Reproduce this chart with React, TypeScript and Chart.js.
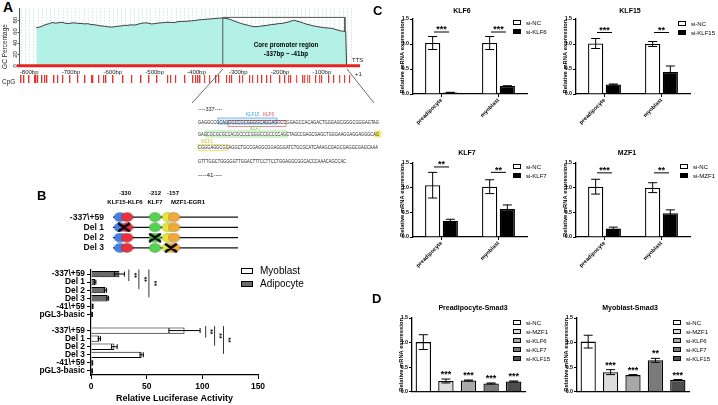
import React, { useEffect, useRef } from 'react';
import { Chart, registerables } from 'chart.js';

Chart.register(...registerables);

const SANS = "'Liberation Sans', Arial, Helvetica, sans-serif";
Chart.defaults.font.family = SANS;
Chart.defaults.color = '#000';

// ================= Panel A data =================
const gcProfile: [number, number][] = [
  [-783, 67], [-775, 68], [-768, 70], [-760, 72.5], [-752, 74], [-745, 76], [-738, 75], [-730, 75.5],
  [-722, 76.5], [-715, 75], [-707, 74], [-700, 75], [-692, 75.5], [-684, 74.5], [-676, 74.5], [-668, 73.5],
  [-660, 74], [-652, 72.5], [-644, 72], [-636, 71], [-628, 70], [-620, 69.5], [-612, 68.5], [-604, 68],
  [-596, 68.5], [-588, 69.5], [-580, 70], [-572, 71], [-564, 71], [-556, 72], [-548, 71.5], [-540, 73],
  [-532, 74.5], [-524, 75.5], [-516, 75], [-508, 73.5], [-500, 74], [-492, 75], [-484, 75.5], [-476, 76],
  [-468, 76.5], [-460, 76], [-452, 76], [-444, 77.5], [-436, 78], [-428, 78], [-420, 78.5], [-412, 79],
  [-404, 79.5], [-396, 80.5], [-388, 81], [-380, 81.5], [-372, 82], [-364, 82.5], [-356, 83], [-348, 83.5],
  [-340, 84], [-332, 83.5], [-324, 82.5], [-316, 80.5], [-308, 78], [-300, 76], [-292, 74], [-284, 72.5],
  [-276, 71], [-268, 69.5], [-260, 68.5], [-252, 69], [-244, 70], [-236, 70.5], [-228, 71.5], [-220, 72.5],
  [-212, 73], [-204, 74], [-196, 74.5], [-188, 75.5], [-180, 77], [-172, 79], [-166, 80], [-160, 78.5],
  [-152, 77], [-144, 75], [-136, 73], [-128, 71.5], [-120, 70], [-112, 69], [-104, 68], [-96, 67],
  [-88, 66.5], [-80, 66], [-72, 65], [-64, 63], [-56, 61.5], [-48, 60.5], [-43, 60.5], [-41, 0],
];
const gcXTicks = [-800, -700, -600, -500, -400, -300, -200, -100];
const gcYTicks = [0, 20, 40, 60, 80];
const coreRegion: [number, number][] = [[-337, 0], [-337, 85], [-45, 85], [-45, 60]];
const cpgSites = [
  -819, -812, -800, -786, -783, -779, -769, -762, -757, -740, -731, -719, -702, -683, -666, -650, -647,
  -633, -621, -616, -599, -575, -554, -532, -513, -494, -468, -461, -449, -427, -408, -401, -396, -391,
  -380, -368, -353, -346, -327, -320, -315, -296, -289, -272, -265, -253, -243, -231, -222, -200, -188,
  -179, -174, -160, -145, -141, -134, -129, -114, -105, -100, -83, -71, -57, -45, -33,
];

// ================= Panel B data =================
const constructs = ['-337\\+59', 'Del 1', 'Del 2', 'Del 3'];
const sitePos = [5.6, 11.2, 33.6, 44, 48.8]; // KLF15, KLF6, KLF7, MZF1, EGR1 (schematic units)
const siteColors = ['#3f7fe6', '#e8313c', '#55d24e', '#e6e63c', '#f2a93b'];
const deletedAt = [null, 8.8, 33.6, 46.4];

const lucLabels = ['-337\\+59', 'Del 1', 'Del 2', 'Del 3', '-41\\+59', 'pGL3-basic'];
const lucAdipocyte = [25.5, 3.8, 13, 15, 1.5, 1];
const lucAdipocyteErr = [4.5, 0.6, 1, 0.8, 0.3, 0.2];
const lucMyoblast = [84, 7.5, 21, 45.5, 1.2, 1];
const lucMyoblastErr = [14, 1, 2.5, 1.5, 0.3, 0.2];
const lucSigX = [34, 43, 52, 103, 111, 119];
const lucSigFrom = [0, 0, 0, 7, 7, 7];
const lucSigTo = [1, 2, 3, 8, 9, 10];

// ================= Panel C data =================
const cellTypes = ['preadipocyte', 'myoblast'];
const klf6NC = [1.02, 1.02];
const klf6NCErr = [0.13, 0.13];
const klf6Si = [0.03, 0.16];
const klf6SiErr = [0.004, 0.005];
const klf6Stars = ['***', '***'];
const klf6StarY = [1.24, 1.24];

const klf15NC = [1.01, 1.0];
const klf15NCErr = [0.1, 0.05];
const klf15Si = [0.19, 0.44];
const klf15SiErr = [0.01, 0.12];
const klf15Stars = ['***', '**'];
const klf15StarY = [1.23, 1.23];

const klf7NC = [1.05, 1.02];
const klf7NCErr = [0.26, 0.14];
const klf7Si = [0.33, 0.57];
const klf7SiErr = [0.03, 0.08];
const klf7Stars = ['**', '**'];
const klf7StarY = [1.42, 1.31];

const mzf1NC = [1.02, 1.0];
const mzf1NCErr = [0.15, 0.1];
const mzf1Si = [0.17, 0.48];
const mzf1SiErr = [0.03, 0.07];
const mzf1Stars = ['***', '**'];
const mzf1StarY = [1.3, 1.3];

// ================= Panel D data =================
const smadGroups = ['si-NC', 'si-MZF1', 'si-KLF6', 'si-KLF7', 'si-KLF15'];
const smadColors = ['#ffffff', '#dcdcdc', '#a8a8a8', '#7a7a7a', '#4d4d4d'];
const preSmad3 = [1.01, 0.22, 0.23, 0.17, 0.21];
const preSmad3Err = [0.15, 0.04, 0.01, 0.01, 0.01];
const preSmad3Stars = ['', '***', '***', '***', '***'];
const myoSmad3 = [1.02, 0.4, 0.34, 0.64, 0.24];
const myoSmad3Err = [0.13, 0.05, 0.01, 0.04, 0.01];
const myoSmad3Stars = ['', '***', '***', '**', '***'];

// ================= plugins =================
const errPlugin = {
  id: 'errbars',
  afterDatasetsDraw(chart: any, _a: any, opts: any) {
    if (!opts || !opts.err) return;
    const ctx = chart.ctx;
    const horiz = chart.options.indexAxis === 'y';
    const vs = horiz ? chart.scales.x : chart.scales.y;
    ctx.save();
    ctx.strokeStyle = '#000';
    ctx.lineWidth = opts.width || 1;
    opts.err.forEach((errs: any, di: number) => {
      if (!errs) return;
      const meta = chart.getDatasetMeta(di);
      const data = chart.data.datasets[di].data;
      meta.data.forEach((el: any, i: number) => {
        const v = data[i];
        const e = errs[i];
        if (v == null || e == null) return;
        const lo = vs.getPixelForValue(v - e);
        const hi = vs.getPixelForValue(v + e);
        const c = horiz ? el.y : el.x;
        const h = opts.cap / 2;
        ctx.beginPath();
        if (horiz) {
          ctx.moveTo(lo, c); ctx.lineTo(hi, c);
          ctx.moveTo(lo, c - h); ctx.lineTo(lo, c + h);
          ctx.moveTo(hi, c - h); ctx.lineTo(hi, c + h);
        } else {
          ctx.moveTo(c, lo); ctx.lineTo(c, hi);
          ctx.moveTo(c - h, lo); ctx.lineTo(c + h, lo);
          ctx.moveTo(c - h, hi); ctx.lineTo(c + h, hi);
        }
        ctx.stroke();
      });
    });
    ctx.restore();
  },
};

const sigPlugin = {
  id: 'sigmarks',
  afterDatasetsDraw(chart: any, _a: any, opts: any) {
    if (!opts || !opts.items) return;
    const ctx = chart.ctx;
    const xs = chart.scales.x;
    const ys = chart.scales.y;
    ctx.save();
    ctx.fillStyle = '#000';
    ctx.strokeStyle = '#000';
    ctx.lineWidth = 1;
    ctx.font = `bold ${opts.font || 8}px ${SANS}`;
    ctx.textAlign = 'center';
    opts.items.forEach((it: any) => {
      if (!it.text) return;
      if (opts.kind === 'pair') {
        const cx = xs.getPixelForValue(it.cat);
        const py = ys.getPixelForValue(it.y);
        ctx.beginPath();
        ctx.moveTo(cx - opts.half, py);
        ctx.lineTo(cx + opts.half, py);
        ctx.stroke();
        ctx.textBaseline = 'alphabetic';
        ctx.fillText(it.text, cx, py + opts.font * 0.05);
      } else if (opts.kind === 'bar') {
        const el = chart.getDatasetMeta(0).data[it.idx];
        const py = ys.getPixelForValue(it.y);
        ctx.textBaseline = 'alphabetic';
        ctx.fillText(it.text, el.x, py - 2);
      } else if (opts.kind === 'vline') {
        const px = xs.getPixelForValue(it.x);
        const y0 = ys.getPixelForValue(it.from) - 4.5;
        const y1 = ys.getPixelForValue(it.to) - 1;
        ctx.lineWidth = 0.8;
        ctx.beginPath();
        ctx.moveTo(px, y0);
        ctx.lineTo(px, y1);
        ctx.stroke();
        ctx.save();
        ctx.translate(px + 4.5, (y0 + y1) / 2);
        ctx.rotate(Math.PI / 2);
        ctx.textBaseline = 'middle';
        ctx.fillText(it.text, 0, 0);
        ctx.restore();
      }
    });
    ctx.restore();
  },
};

// GC panel: dotted vertical grid above the baseline, drawn behind the data
const vgridPlugin = {
  id: 'vgrid',
  beforeDatasetsDraw(chart: any) {
    const xs = chart.scales.x;
    const ys = chart.scales.y;
    const top = chart.chartArea.top;
    const bottom = ys.getPixelForValue(0);
    const ctx = chart.ctx;
    ctx.save();
    ctx.lineWidth = 0.8;
    ctx.setLineDash([1.5, 1.5]);
    let k = 0;
    for (let bp = Math.ceil(xs.min / 10) * 10; bp <= xs.max; bp += 10) {
      const px = Math.round(xs.getPixelForValue(bp)) + 0.5;
      ctx.strokeStyle = k % 2 ? 'rgba(120,205,200,0.55)' : 'rgba(150,215,170,0.55)';
      ctx.beginPath();
      ctx.moveTo(px, top);
      ctx.lineTo(px, bottom);
      ctx.stroke();
      k++;
    }
    ctx.restore();
  },
};

// GC panel: red baseline, y axis line/ticks/labels and bp labels, all from the scales
const gcAxesPlugin = {
  id: 'gcAxes',
  afterDatasetsDraw(chart: any) {
    const xs = chart.scales.x;
    const ys = chart.scales.y;
    const { left, right, top } = chart.chartArea;
    const ctx = chart.ctx;
    const y0 = ys.getPixelForValue(0);
    ctx.save();
    // y axis line and ticks
    ctx.strokeStyle = '#555';
    ctx.lineWidth = 1;
    ctx.beginPath();
    ctx.moveTo(left - 0.5, top);
    ctx.lineTo(left - 0.5, y0);
    gcYTicks.forEach((v) => {
      const py = Math.round(ys.getPixelForValue(v)) + 0.5;
      ctx.moveTo(left - 2.5, py);
      ctx.lineTo(left - 0.5, py);
    });
    ctx.stroke();
    // red baseline
    ctx.strokeStyle = '#e8231f';
    ctx.lineWidth = 3;
    ctx.beginPath();
    ctx.moveTo(left - 3, y0);
    ctx.lineTo(right + 8, y0);
    ctx.stroke();
    // labels
    ctx.fillStyle = '#222';
    ctx.font = `6px ${SANS}`;
    ctx.textAlign = 'center';
    ctx.textBaseline = 'middle';
    gcYTicks.forEach((v) => {
      ctx.save();
      ctx.translate(left - 4.7, ys.getPixelForValue(v));
      ctx.rotate(-Math.PI / 2);
      ctx.fillText(String(v), 0, 0);
      ctx.restore();
    });
    gcXTicks.forEach((v) => {
      ctx.fillText(v + 'bp', xs.getPixelForValue(v), y0 + 6.5);
    });
    ctx.restore();
  },
};

function ellipseImage(color: string) {
  const c = document.createElement('canvas');
  c.width = 13;
  c.height = 10;
  const g = c.getContext('2d')!;
  g.beginPath();
  g.ellipse(6.5, 5, 6, 4.5, 0, 0, Math.PI * 2);
  g.fillStyle = color;
  g.fill();
  g.strokeStyle = 'rgba(0,0,0,0.3)';
  g.lineWidth = 0.6;
  g.stroke();
  return c;
}

function crossImage() {
  const c = document.createElement('canvas');
  c.width = 14;
  c.height = 10;
  const g = c.getContext('2d')!;
  g.strokeStyle = '#000';
  g.lineWidth = 2.6;
  g.lineCap = 'round';
  g.beginPath();
  g.moveTo(2, 1.5); g.lineTo(12, 8.5);
  g.moveTo(12, 1.5); g.lineTo(2, 8.5);
  g.stroke();
  return c;
}

function tickImage(color: string) {
  const c = document.createElement('canvas');
  c.width = 2;
  c.height = 8;
  const g = c.getContext('2d')!;
  g.fillStyle = color;
  g.fillRect(0, 0, 1.2, 8);
  return c;
}

const base = (padT: number, padR: number, padL = 0, padB = 0) => ({
  responsive: false,
  animation: false,
  devicePixelRatio: 1,
  layout: { padding: { top: padT, right: padR, left: padL, bottom: padB } },
});
const noLegend = { legend: { display: false }, tooltip: { enabled: false }, title: { display: false } };

// ================= chart configs =================
function gcConfig() {
  const CPG_ROW = -23; // y level of the CpG track, below the baseline
  return {
    type: 'line',
    data: {
      datasets: [
        {
          type: 'scatter',
          data: cpgSites.map((x) => ({ x, y: CPG_ROW })),
          pointStyle: tickImage('#e3342f'),
          pointRadius: 4,
          showLine: false,
        },
        {
          data: coreRegion.map(([x, y]) => ({ x, y })),
          fill: false,
          borderColor: '#555',
          borderWidth: 1,
          pointRadius: 0,
          tension: 0,
        },
        {
          data: gcProfile.map(([x, y]) => ({ x, y })),
          fill: 'origin',
          backgroundColor: '#b3f1e6',
          borderColor: '#3a3a3a',
          borderWidth: 1,
          pointRadius: 0,
          tension: 0,
        },
      ],
    },
    options: {
      ...base(8, 13, 0, 2),
      plugins: { ...noLegend },
      scales: {
        x: { type: 'linear', min: -822, max: -28, display: false },
        y: {
          type: 'linear', min: -33.8, max: 101.5,
          ticks: { display: false },
          grid: { display: false, drawTicks: false },
          border: { display: false },
          title: { display: true, text: 'GC Percentage', font: { size: 6.5 }, padding: { top: 1, bottom: 0 }, color: '#222' },
          afterFit: (s: any) => { s.width = 20; },
        },
      },
    },
    plugins: [vgridPlugin, gcAxesPlugin],
  };
}

function schematicConfig() {
  // Chart.js paints dataset 0 last (on top), so push in top-to-bottom order
  const datasets: any[] = [];
  datasets.push({
    type: 'scatter',
    data: deletedAt
      .map((pos, i) => (pos == null ? null : { x: pos, y: constructs[i] }))
      .filter((d) => d),
    pointStyle: crossImage(),
    pointRadius: 6,
    clip: false,
  });
  for (let i = sitePos.length - 1; i >= 0; i--) {
    datasets.push({
      type: 'scatter',
      data: constructs.map((row) => ({ x: sitePos[i], y: row })),
      pointStyle: ellipseImage(siteColors[i]),
      pointRadius: 6,
      clip: false,
    });
  }
  constructs.forEach((row) => {
    datasets.push({
      type: 'line',
      data: [{ x: 0, y: row }, { x: 100, y: row }],
      borderColor: '#111',
      borderWidth: 1.3,
      pointRadius: 0,
    });
  });
  return {
    type: 'scatter',
    data: { datasets },
    options: {
      ...base(2.8, 7, 0, 2.6),
      plugins: { ...noLegend },
      scales: {
        x: { type: 'linear', min: 0, max: 100, display: false },
        y: {
          type: 'category', labels: constructs, offset: true,
          grid: { display: false }, border: { display: false },
          ticks: { font: { size: 8.6, weight: 'bold' }, color: '#111', padding: 1, autoSkip: false },
          afterFit: (s: any) => { s.width = 113; },
        },
      },
    },
  };
}

function lucConfig() {
  const rows = [...lucLabels, '', ...lucLabels];
  const adip = rows.map((_, i) => (i < lucLabels.length ? lucAdipocyte[i] : null));
  const adipErr = rows.map((_, i) => (i < lucLabels.length ? lucAdipocyteErr[i] : null));
  const off = lucLabels.length + 1;
  const myo = rows.map((_, i) => (i >= off ? lucMyoblast[i - off] : null));
  const myoErr = rows.map((_, i) => (i >= off ? lucMyoblastErr[i - off] : null));
  return {
    type: 'bar',
    data: {
      labels: rows,
      datasets: [
        { label: 'Adipocyte', data: adip, backgroundColor: '#6b6b6b', borderColor: '#000', borderWidth: 1, grouped: false, barPercentage: 0.78, categoryPercentage: 1 },
        { label: 'Myoblast', data: myo, backgroundColor: '#ffffff', borderColor: '#000', borderWidth: 1, grouped: false, barPercentage: 0.78, categoryPercentage: 1 },
      ],
    },
    options: {
      ...base(8, 12),
      indexAxis: 'y',
      plugins: {
        ...noLegend,
        errbars: { err: [adipErr, myoErr], cap: 5 },
        sigmarks: {
          kind: 'vline', font: 6.5,
          items: lucSigX.map((x, i) => ({ x, from: lucSigFrom[i], to: lucSigTo[i], text: '**' })),
        },
      },
      scales: {
        x: {
          type: 'linear', min: 0, max: 150,
          ticks: { stepSize: 50, font: { size: 8.5, weight: 'bold' }, padding: 3, color: '#000' },
          grid: { drawOnChartArea: false, tickLength: 4, color: '#000' },
          border: { color: '#000', width: 1.2 },
          title: { display: true, text: 'Relative Luciferase Activity', font: { size: 9, weight: 'bold' }, padding: { top: 0, bottom: 1.5 }, color: '#000' },
          afterFit: (s: any) => { s.height = 30; },
        },
        y: {
          type: 'category', offset: true,
          ticks: { font: { size: 8.4, weight: 'bold' }, padding: 2, color: '#000', autoSkip: false },
          grid: {
            drawOnChartArea: false, tickLength: 4, offset: false,
            color: (c: any) => (c.tick && c.tick.label === '' ? 'rgba(0,0,0,0)' : '#000'),
          },
          border: { color: '#000', width: 1.2 },
          afterFit: (s: any) => { s.width = 61; },
        },
      },
    },
    plugins: [errPlugin, sigPlugin],
  };
}

function groupedConfig(p: any) {
  return {
    type: 'bar',
    data: {
      labels: cellTypes,
      datasets: [
        { label: 'si-NC', data: p.nc, backgroundColor: '#fff', borderColor: '#000', borderWidth: 1.3, barPercentage: 0.86, categoryPercentage: 0.62 },
        { label: p.siName, data: p.si, backgroundColor: '#000', borderColor: '#000', borderWidth: 1.3, barPercentage: 0.86, categoryPercentage: 0.62 },
      ],
    },
    options: {
      ...base(p.padT, p.padR),
      plugins: {
        ...noLegend,
        errbars: { err: [p.ncErr, p.siErr], cap: 9 },
        sigmarks: { kind: 'pair', half: 7.5, font: 9, items: p.stars.map((t: string, i: number) => ({ cat: i, y: p.starY[i], text: t })) },
      },
      scales: {
        x: {
          type: 'category', offset: true,
          grid: { display: true, drawOnChartArea: false, drawTicks: true, tickLength: 3, color: '#000', offset: false },
          border: { color: '#000', width: 1.3 },
          ticks: { minRotation: 45, maxRotation: 45, font: { size: 5.5, weight: 'bold' }, padding: 0, color: '#000', autoSkip: false },
          afterFit: (s: any) => { s.height = p.xH; },
        },
        y: {
          min: 0, max: 1.5,
          ticks: { stepSize: 0.5, callback: (v: any) => Number(v).toFixed(1), font: { size: 5.3, weight: 'bold' }, padding: 1, color: '#000' },
          grid: { drawOnChartArea: false, tickLength: 3, color: '#000' },
          border: { color: '#000', width: 1.3 },
          title: { display: true, text: 'Relative mRNA expression', font: { size: 5.8, weight: 'bold' }, padding: 0, color: '#000' },
          afterFit: (s: any) => { s.width = p.yW; },
        },
      },
    },
    plugins: [errPlugin, sigPlugin],
  };
}

function smadConfig(p: any) {
  return {
    type: 'bar',
    data: {
      labels: smadGroups,
      datasets: [
        { data: p.values, backgroundColor: smadColors, borderColor: '#000', borderWidth: 1.3, barPercentage: 0.68, categoryPercentage: 1 },
      ],
    },
    options: {
      ...base(p.padT, p.padR),
      plugins: {
        ...noLegend,
        errbars: { err: [p.err], cap: 9 },
        sigmarks: {
          kind: 'bar', font: 9,
          items: p.stars.map((t: string, i: number) => ({ idx: i, y: p.values[i] + p.err[i], text: t })),
        },
      },
      scales: {
        x: {
          type: 'category', offset: true,
          grid: { display: false },
          border: { color: '#000', width: 1.3 },
          ticks: { display: false },
          afterFit: (s: any) => { s.height = 4; },
        },
        y: {
          min: 0, max: 1.5,
          ticks: { stepSize: 0.5, callback: (v: any) => Number(v).toFixed(1), font: { size: 5.3, weight: 'bold' }, padding: 1, color: '#000' },
          grid: { drawOnChartArea: false, tickLength: 3, color: '#000' },
          border: { color: '#000', width: 1.3 },
          title: { display: true, text: 'Relative mRNA expression', font: { size: 5.8, weight: 'bold' }, padding: 0, color: '#000' },
          afterFit: (s: any) => { s.width = p.yW; },
        },
      },
    },
    plugins: [errPlugin, sigPlugin],
  };
}

// ================= components =================
function ChartCanvas({ x, y, w, h, build }: any) {
  const ref = useRef<HTMLCanvasElement>(null);
  useEffect(() => {
    const chart = new Chart(ref.current as any, build());
    return () => chart.destroy();
  }, []);
  return (
    <canvas
      ref={ref}
      width={w}
      height={h}
      style={{ position: 'absolute', left: x, top: y, width: w, height: h }}
    />
  );
}

function T({ x, y, s, w = 'normal', c = '#000', center = false, children }: any) {
  return (
    <div
      style={{
        position: 'absolute', left: x, top: y, fontSize: s, fontWeight: w, color: c,
        fontFamily: SANS, lineHeight: 1, whiteSpace: 'nowrap',
        transform: center ? 'translate(-50%, -50%)' : 'translateY(-50%)',
      }}
    >
      {children}
    </div>
  );
}

function Legend({ x, y, items, gap = 9 }: any) {
  return (
    <>
      {items.map((it: any, i: number) => (
        <React.Fragment key={i}>
          <div
            style={{
              position: 'absolute', left: x, top: y + i * gap - 3, width: 8, height: 5,
              background: it.color, border: '1px solid #000', boxSizing: 'border-box',
            }}
          />
          <T x={x + 13} y={y + i * gap} s={6}>{it.label}</T>
        </React.Fragment>
      ))}
    </>
  );
}

function SequenceOverlay() {
  const seq1 = 'GAGGCCGCAGGGCCGCGGGGCAGGAGGCCGGAGCCACAGACTGGGAGCGGGCGGGAGTAG';
  const seq2 = 'GAGCGCGCGCCACGCCCCGGGCCGCCCCAGCTAGCCGAGCGAGCTGGGAAGGAGGAGGGCAG';
  const seq3 = 'CGGGAGGCGCAGGCTGCCGAGGCGGAGGGATCTGCGCATCAAAGCGAGCGAGGCGAGCAAA';
  const seq4 = 'GTTTGGCTGGGGGTTGGACTTTCCTTCCTGGAGGCGGCACCCAAACAGCCAC';
  const f = { fontFamily: SANS, fontSize: 4.6, fill: '#222' } as any;
  return (
    <svg width={718} height={405} style={{ position: 'absolute', left: 0, top: 0, pointerEvents: 'none' }}>
      <line x1={223} y1={69} x2={192} y2={103} stroke="#444" strokeWidth={0.8} />
      <line x1={347} y1={69} x2={374} y2={103} stroke="#444" strokeWidth={0.8} />
      <rect x={218} y={118} width={59} height={6} fill="rgba(120,190,240,0.25)" stroke="#4aa3df" strokeWidth={0.7} />
      <rect x={228} y={120.5} width={58} height={6} fill="none" stroke="#e05a6a" strokeWidth={0.7} />
      <rect x={206} y={131} width={81} height={6} fill="none" stroke="#7fdc6f" strokeWidth={0.7} />
      <rect x={375} y={131} width={6} height={6} fill="#f6f07a" stroke="#e8dc40" strokeWidth={0.5} />
      <rect x={198} y={144.5} width={30} height={6} fill="none" stroke="#e8dc40" strokeWidth={0.7} />
      <text x={198} y={110.5} {...f} textLength={24} lengthAdjust="spacingAndGlyphs">----337----</text>
      <text x={246} y={115.5} {...f} fill="#3a9ee0">KLF15</text>
      <text x={263} y={115.5} {...f} fill="#e0505e">KLF6</text>
      <text x={198} y={123.5} {...f} textLength={181} lengthAdjust="spacingAndGlyphs">{seq1}</text>
      <text x={250} y={130} {...f} fill="#5fcf45">KLF7</text>
      <text x={198} y={135.5} {...f} textLength={181} lengthAdjust="spacingAndGlyphs">{seq2}</text>
      <text x={201} y={143} {...f} fill="#cfc531">MZF1</text>
      <text x={198} y={149} {...f} textLength={180} lengthAdjust="spacingAndGlyphs">{seq3}</text>
      <text x={198} y={162.5} {...f} textLength={148} lengthAdjust="spacingAndGlyphs">{seq4}</text>
      <text x={198} y={176.5} {...f} textLength={24} lengthAdjust="spacingAndGlyphs">----41----</text>
    </svg>
  );
}

export default function App() {
  return (
    <div style={{ position: 'absolute', left: 0, top: 0, width: 718, height: 405, background: '#fff', overflow: 'hidden', fontFamily: SANS }}>
      {/* Panel A */}
      <T x={3} y={7} s={14} w="bold">A</T>
      <ChartCanvas x={0} y={0} w={365} h={90} build={gcConfig} />
      <T x={2} y={82} s={6.5} c="#222">CpG</T>
      <T x={352} y={60} s={6} c="#222">TTS</T>
      <T x={355} y={74} s={6} c="#222">+1</T>
      <T x={286} y={45} s={6.3} w="bold" center>Core promoter region</T>
      <T x={286} y={54} s={6.3} w="bold" center>-337bp ~ -41bp</T>
      <SequenceOverlay />

      {/* Panel B */}
      <T x={37} y={195} s={13} w="bold">B</T>
      <T x={125} y={193} s={6} w="bold" center>-330</T>
      <T x={125} y={202} s={6} w="bold" center>KLF15-KLF6</T>
      <T x={155} y={193} s={6} w="bold" center>-212</T>
      <T x={155} y={202} s={6} w="bold" center>KLF7</T>
      <T x={173} y={193} s={6} w="bold" center>-157</T>
      <T x={188} y={202} s={6} w="bold" center>MZF1-EGR1</T>
      <ChartCanvas x={0} y={205} w={245} h={55} build={schematicConfig} />
      <ChartCanvas x={30} y={262} w={240} h={143} build={lucConfig} />
      <div style={{ position: 'absolute', left: 241, top: 268, width: 12, height: 6, border: '1.3px solid #000', background: '#fff', boxSizing: 'border-box' }} />
      <T x={260} y={271} s={10}>Myoblast</T>
      <div style={{ position: 'absolute', left: 241, top: 281, width: 12, height: 6, border: '1.3px solid #000', background: '#6b6b6b', boxSizing: 'border-box' }} />
      <T x={260} y={284} s={10}>Adipocyte</T>

      {/* Panel C */}
      <T x={373} y={10} s={13} w="bold">C</T>
      <T x={462} y={10} s={7} w="bold" center>KLF6</T>
      <ChartCanvas x={399} y={5} w={131} h={121} build={() => groupedConfig({ nc: klf6NC, ncErr: klf6NCErr, si: klf6Si, siErr: klf6SiErr, siName: 'si-KLF6', stars: klf6Stars, starY: klf6StarY, yW: 14, xH: 32, padT: 14, padR: 3 })} />
      <Legend x={513} y={23} items={[{ label: 'si-NC', color: '#fff' }, { label: 'si-KLF6', color: '#000' }]} />

      <T x={630} y={10} s={7} w="bold" center>KLF15</T>
      <ChartCanvas x={562} y={5} w={131} h={121} build={() => groupedConfig({ nc: klf15NC, ncErr: klf15NCErr, si: klf15Si, siErr: klf15SiErr, siName: 'si-KLF15', stars: klf15Stars, starY: klf15StarY, yW: 14, xH: 32, padT: 14, padR: 3 })} />
      <Legend x={678} y={24} items={[{ label: 'si-NC', color: '#fff' }, { label: 'si-KLF15', color: '#000' }]} />

      <T x={467} y={152} s={7} w="bold" center>KLF7</T>
      <ChartCanvas x={399} y={149} w={131} h={120} build={() => groupedConfig({ nc: klf7NC, ncErr: klf7NCErr, si: klf7Si, siErr: klf7SiErr, siName: 'si-KLF7', stars: klf7Stars, starY: klf7StarY, yW: 14, xH: 32, padT: 14, padR: 3 })} />
      <Legend x={513} y={167} items={[{ label: 'si-NC', color: '#fff' }, { label: 'si-KLF7', color: '#000' }]} />

      <T x={627} y={152} s={7} w="bold" center>MZF1</T>
      <ChartCanvas x={562} y={149} w={131} h={120} build={() => groupedConfig({ nc: mzf1NC, ncErr: mzf1NCErr, si: mzf1Si, siErr: mzf1SiErr, siName: 'si-MZF1', stars: mzf1Stars, starY: mzf1StarY, yW: 14, xH: 32, padT: 14, padR: 3 })} />
      <Legend x={680} y={167} items={[{ label: 'si-NC', color: '#fff' }, { label: 'si-MZF1', color: '#000' }]} />

      {/* Panel D */}
      <T x={372} y={298} s={13} w="bold">D</T>
      <T x={473} y={307} s={7} w="bold" center>Preadipocyte-Smad3</T>
      <ChartCanvas x={398} y={310} w={130} h={86} build={() => smadConfig({ values: preSmad3, err: preSmad3Err, stars: preSmad3Stars, yW: 14, padT: 8, padR: 3 })} />
      <Legend x={513} y={323} items={smadGroups.map((g, i) => ({ label: g, color: smadColors[i] }))} />

      <T x={630} y={307} s={7} w="bold" center>Myoblast-Smad3</T>
      <ChartCanvas x={563} y={310} w={129} h={86} build={() => smadConfig({ values: myoSmad3, err: myoSmad3Err, stars: myoSmad3Stars, yW: 14, padT: 8, padR: 3 })} />
      <Legend x={673} y={323} items={smadGroups.map((g, i) => ({ label: g, color: smadColors[i] }))} />
    </div>
  );
}
